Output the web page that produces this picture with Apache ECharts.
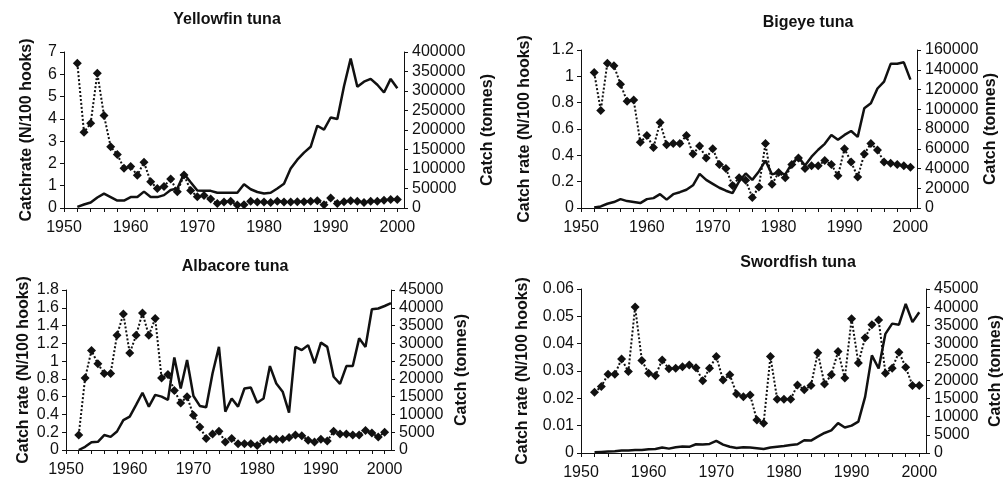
<!DOCTYPE html>
<html>
<head>
<meta charset="utf-8">
<script src="https://cdn.jsdelivr.net/npm/echarts@6/dist/echarts.min.js"></script>
<style>
  html, body { margin: 0; padding: 0; background: #fff; }
  #chart { width: 1006px; height: 483px; }
</style>
</head>
<body>
<div id="chart"></div>
<script>
// years on the x axis
var years = [1950, 1951, 1952, 1953, 1954, 1955, 1956, 1957, 1958, 1959,
  1960, 1961, 1962, 1963, 1964, 1965, 1966, 1967, 1968, 1969,
  1970, 1971, 1972, 1973, 1974, 1975, 1976, 1977, 1978, 1979,
  1980, 1981, 1982, 1983, 1984, 1985, 1986, 1987, 1988, 1989,
  1990, 1991, 1992, 1993, 1994, 1995, 1996, 1997, 1998, 1999,
  2000, 2001];
var firstYear = 1952; // all series start here

// Yellowfin tuna
var yellowfinRate = [6.5, 3.4, 3.8, 6.05, 4.15, 2.75, 2.4, 1.78, 1.86, 1.47,
  2.05, 1.18, 0.87, 0.97, 1.3, 0.73, 1.48, 0.79, 0.5, 0.56,
  0.4, 0.2, 0.27, 0.3, 0.13, 0.15, 0.3, 0.27, 0.27, 0.25,
  0.3, 0.27, 0.27, 0.28, 0.28, 0.3, 0.33, 0.15, 0.45, 0.2,
  0.28, 0.33, 0.3, 0.25, 0.3, 0.3, 0.35, 0.38, 0.38];
var yellowfinCatch = [3000, 9000, 14000, 27000, 37000, 28000, 19000, 19000, 28000, 28000,
  42000, 28000, 28000, 33000, 46000, 50000, 88000, 66000, 45000, 44000,
  44000, 39000, 39000, 39000, 39000, 61000, 48000, 41000, 37000, 39000,
  50000, 62000, 101000, 124000, 142000, 157000, 211000, 201000, 232000, 228000,
  312000, 383000, 311000, 324000, 331000, 316000, 296000, 331000, 307000];

// Bigeye tuna
var bigeyeRate = [1.03, 0.74, 1.1, 1.08, 0.94, 0.81, 0.82, 0.5, 0.55, 0.46,
  0.65, 0.48, 0.49, 0.49, 0.55, 0.41, 0.47, 0.38, 0.45, 0.33,
  0.3, 0.17, 0.23, 0.21, 0.08, 0.16, 0.49, 0.18, 0.27, 0.23,
  0.33, 0.38, 0.3, 0.32, 0.32, 0.36, 0.33, 0.245, 0.45, 0.35,
  0.235, 0.41, 0.49, 0.44, 0.35, 0.34, 0.33, 0.32, 0.31];
var bigeyeCatch = [500, 1600, 4300, 6000, 9000, 7000, 6000, 5000, 9000, 10000,
  14000, 8500, 14000, 16000, 18500, 23000, 34500, 28500, 24500, 20500,
  17500, 15000, 27000, 35000, 28500, 37000, 48000, 34000, 36000, 34000,
  45000, 51500, 43000, 52000, 59000, 65000, 74000, 69000, 74000, 78000,
  72000, 101000, 106000, 121000, 128000, 146000, 146000, 147500, 130000];

// Albacore tuna (catch goes one year further)
var albacoreRate = [0.17, 0.81, 1.12, 0.97, 0.86, 0.86, 1.29, 1.53, 1.09, 1.29,
  1.54, 1.29, 1.48, 0.81, 0.85, 0.67, 0.53, 0.6, 0.39, 0.26,
  0.13, 0.18, 0.21, 0.09, 0.13, 0.07, 0.07, 0.07, 0.05, 0.1,
  0.12, 0.12, 0.12, 0.14, 0.17, 0.16, 0.11, 0.09, 0.12, 0.1,
  0.21, 0.18, 0.18, 0.17, 0.17, 0.22, 0.19, 0.145, 0.2];
var albacoreCatch = [0, 900, 2200, 2300, 4200, 3700, 5200, 8400, 9400, 12700,
  16100, 12200, 15500, 15000, 14100, 26000, 17300, 25300, 15200, 12400,
  12000, 21600, 29000, 10800, 14500, 12200, 17300, 17600, 13300, 14500,
  23600, 18700, 16400, 10500, 29000, 28100, 29500, 24400, 30200, 29000,
  20600, 18600, 23600, 23600, 31400, 29000, 39600, 39800, 40500, 41300];

// Swordfish
var swordfishRate = [0.0222, 0.0243, 0.0288, 0.0288, 0.0344, 0.0298, 0.0534, 0.0338, 0.0292, 0.0283,
  0.034, 0.0308, 0.031, 0.0316, 0.0322, 0.0312, 0.0264, 0.031, 0.0353, 0.0267,
  0.0286, 0.0216, 0.0206, 0.0212, 0.0121, 0.0109, 0.0353, 0.0197, 0.0197, 0.0197,
  0.0249, 0.0231, 0.0247, 0.0367, 0.0252, 0.0286, 0.0371, 0.0274, 0.0491, 0.0329,
  0.0422, 0.0469, 0.0487, 0.0292, 0.031, 0.0369, 0.0314, 0.0247, 0.0247];
var swordfishCatch = [200, 300, 400, 500, 700, 700, 800, 800, 1000, 1100,
  1500, 1200, 1600, 1800, 1700, 2400, 2300, 2500, 3300, 2300,
  1700, 1400, 1600, 1500, 1300, 1100, 1500, 1700, 1900, 2200,
  2400, 3500, 3400, 4500, 5500, 6200, 8200, 7000, 7500, 8600,
  15400, 26800, 23200, 32700, 35500, 35200, 40900, 35900, 38600];

var panels = [
  { title: 'Yellowfin tuna', rate: yellowfinRate, catchT: yellowfinCatch,
    leftName: 'Catchrate (N/100 hooks)', rateMax: 7, rateStep: 1, catchMax: 400000, catchStep: 50000,
    grid: { left: 64, top: 52, width: 340, height: 156 }, titleX: 222, titleY: 7, gapL: 29, gapR: 76 },
  { title: 'Bigeye tuna', rate: bigeyeRate, catchT: bigeyeCatch,
    leftName: 'Catch rate (N/100 hooks)', rateMax: 1.2, rateStep: 0.2, catchMax: 160000, catchStep: 20000,
    grid: { left: 581, top: 50, width: 336, height: 158 }, titleX: 803, titleY: 10, gapL: 48, gapR: 66 },
  { title: 'Albacore tuna', rate: albacoreRate, catchT: albacoreCatch,
    leftName: 'Catch rate (N/100 hooks)', rateMax: 1.8, rateStep: 0.2, catchMax: 45000, catchStep: 5000,
    grid: { left: 66, top: 290, width: 325, height: 160 }, titleX: 230, titleY: 254, gapL: 34, gapR: 63 },
  { title: 'Swordfish tuna', rate: swordfishRate, catchT: swordfishCatch,
    leftName: 'Catch rate (N/100 hooks)', rateMax: 0.06, rateStep: 0.01, catchMax: 45000, catchStep: 5000,
    grid: { left: 581, top: 289, width: 345, height: 164 }, titleX: 793, titleY: 250, gapL: 50, gapR: 62 }
];

var ink = '#111';
var font = 'Liberation Sans, Arial, sans-serif';
var cats = years.map(String);

// put values on the year categories (series start at firstYear)
function onYears(values) {
  var out = [];
  for (var i = 0; i < values.length; i++) {
    out.push([String(firstYear + i), values[i]]);
  }
  return out;
}

var option = {
  animation: false,
  backgroundColor: '#fff',
  title: [], grid: [], xAxis: [], yAxis: [], series: []
};

panels.forEach(function (p, i) {
  option.title.push({
    text: p.title, left: p.titleX, top: p.titleY, textAlign: 'center',
    textStyle: { fontFamily: font, fontSize: 16, fontWeight: 'bold', color: ink }
  });
  option.grid.push(p.grid);
  option.xAxis.push({
    type: 'category', gridIndex: i, data: cats, boundaryGap: false,
    axisLine: { lineStyle: { color: ink, width: 1 } },
    axisTick: { length: 4, lineStyle: { color: ink },
      interval: function (idx, v) { return v % 2 === 0; } },
    axisLabel: { color: ink, fontFamily: font, fontSize: 16, margin: 12,
      interval: function (idx, v) { return v % 10 === 0; } },
    splitLine: { show: false }
  });
  var yCommon = {
    type: 'value', gridIndex: i, min: 0,
    nameLocation: 'middle', nameRotate: 90,
    nameTextStyle: { fontFamily: font, fontSize: 16, fontWeight: 'bold', color: ink },
    axisLine: { show: true, lineStyle: { color: ink, width: 1 } },
    axisTick: { show: true, length: 4, lineStyle: { color: ink } },
    splitLine: { show: false }
  };
  option.yAxis.push(Object.assign({}, yCommon, {
    position: 'left', max: p.rateMax, interval: p.rateStep,
    name: p.leftName, nameGap: p.gapL,
    axisLabel: { color: ink, fontFamily: font, fontSize: 16, margin: 7,
      formatter: function (v) { return String(+v.toFixed(4)); } }
  }));
  option.yAxis.push(Object.assign({}, yCommon, {
    position: 'right', max: p.catchMax, interval: p.catchStep,
    name: 'Catch (tonnes)', nameGap: p.gapR,
    axisLabel: { color: ink, fontFamily: font, fontSize: 16, margin: 8,
      formatter: function (v) { return String(v); } }
  }));
  option.series.push({
    type: 'line', xAxisIndex: i, yAxisIndex: i * 2 + 1,
    data: onYears(p.catchT), symbol: 'none',
    lineStyle: { color: ink, width: 2.5 }, z: 2
  });
  option.series.push({
    type: 'line', xAxisIndex: i, yAxisIndex: i * 2,
    data: onYears(p.rate), symbol: 'diamond', symbolSize: 9, showAllSymbol: true,
    itemStyle: { color: ink },
    lineStyle: { color: ink, width: 2, type: 'dotted' }, z: 3
  });
});

var chart = echarts.init(document.getElementById('chart'));
chart.setOption(option);
</script>
</body>
</html>
